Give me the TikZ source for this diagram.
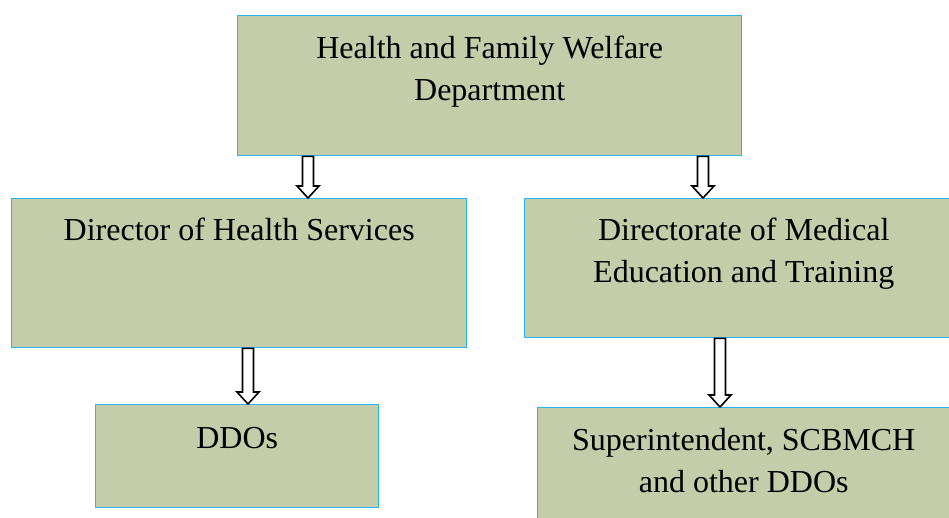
\documentclass[tikz,border=0pt]{standalone}
\usepackage{fontspec}
\setmainfont{Liberation Serif}
\usetikzlibrary{positioning,calc}

\definecolor{unitfill}{RGB}{196,205,170}
\definecolor{unitline}{RGB}{40,180,240}

\tikzset{
  unit/.style={draw=unitline, fill=unitfill, line width=1.4pt, anchor=north west, inner sep=0pt},
  caption/.style={anchor=base, align=center, inner sep=0pt, font=\fontsize{32}{42}\selectfont},
  hollow/.style={draw=black, fill=white, line width=1.6pt},
}

% hollow block arrow: x position, upper node, lower node
\newcommand\hollowarrow[3]{%
  \path let \p1=(#2 -| #1), \p2=(#3 -| #1) in
    [hollow] (\x1-5.5pt,\y1) -- (\x1+5.5pt,\y1) -- (\x1+5.5pt,\y2+12pt)
    -- (\x1+11pt,\y2+12pt) -- (\x1,\y2) -- (\x1-11pt,\y2+12pt)
    -- (\x1-5.5pt,\y2+12pt) -- cycle;}

\begin{document}
\begin{tikzpicture}[x=1pt,y=-1pt]
  \clip (0,0) rectangle (949,517);
  % Define nodes
  \node[unit, minimum width=504, minimum height=140] (hfw) at (237,15) {};
  \node[unit, minimum width=455, minimum height=149] (dhs) at (11,198) {};
  \node[unit, minimum width=438, minimum height=139] (dmet) at (524,198) {};
  \node[unit, minimum width=283, minimum height=103] (ddo) at (95,404) {};
  \node[unit, minimum width=412, minimum height=130] (sup) at (537,407) {};
  % Texts (base is the last line)
  \node[caption] (hfwtext) at ($(hfw.north)+(0,85)$) {Health and Family Welfare\\Department};
  \node[caption] (dhstext) at ($(dhs.north)+(0,42)$) {Director of Health Services};
  \node[caption] (dmettext) at ($(dmet.north)+(0,84)$) {Directorate of Medical\\Education and Training};
  \node[caption] (ddotext) at ($(ddo.north)+(0,44)$) {DDOs};
  \node[caption] (suptext) at ($(sup.north)+(0,85)$) {Superintendent, SCBMCH\\and other DDOs};
  % Connect nodes
  \coordinate (a1) at (308,0);
  \coordinate (a2) at (703,0);
  \coordinate (a3) at (248,0);
  \coordinate (a4) at (720,0);
  \hollowarrow{a1}{hfw.south}{dhs.north}
  \hollowarrow{a2}{hfw.south}{dmet.north}
  \hollowarrow{a3}{dhs.south}{ddo.north}
  \hollowarrow{a4}{dmet.south}{sup.north}
\end{tikzpicture}
\end{document}
